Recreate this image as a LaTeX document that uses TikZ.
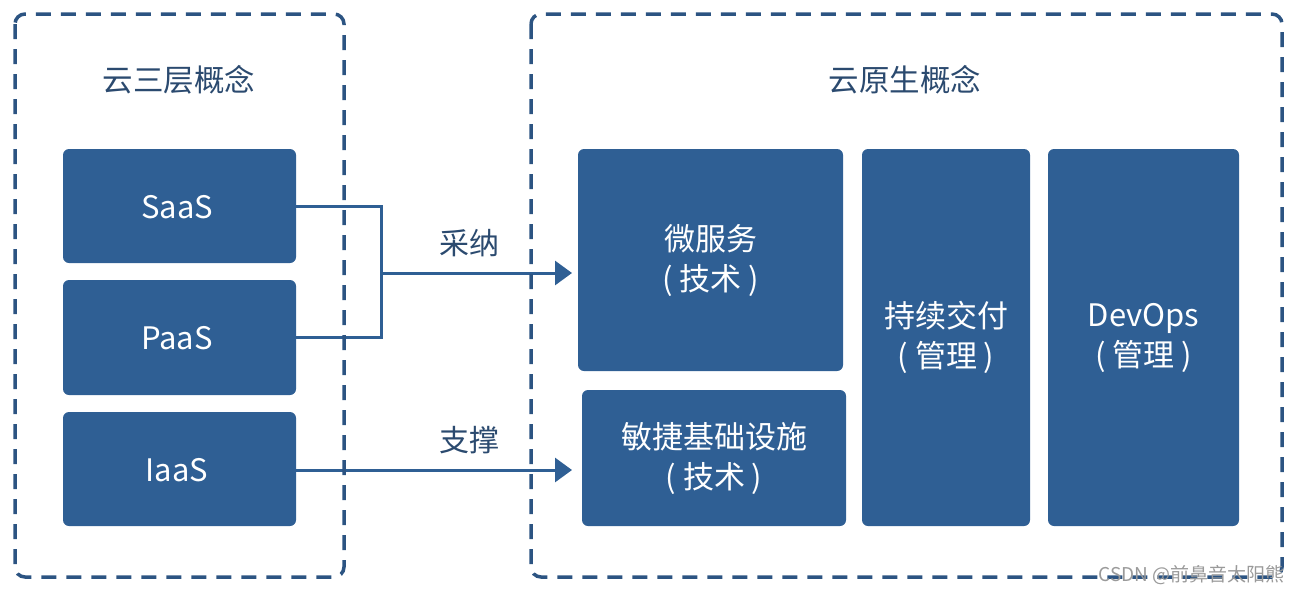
\documentclass[tikz,border=0pt]{standalone}
\usepackage{fontspec}
\setmainfont{Noto Sans CJK SC}
\usetikzlibrary{arrows.meta}
\definecolor{boxblue}{HTML}{2F5F94}
\definecolor{dashblue}{HTML}{2C5482}
\definecolor{titleblue}{HTML}{2B4A6F}
\definecolor{wmgray}{HTML}{9A9A9A}
\tikzset{
  blk/.style={fill=boxblue, rounded corners=6pt, draw=none},
  blktext/.style={text=white, font=\fontsize{31}{40}\selectfont, align=center},
  frame/.style={draw=dashblue, line width=3.5pt, dash pattern=on 15pt off 10pt, rounded corners=10pt},
  conn/.style={draw=boxblue, line width=3pt},
  arr/.style={conn, -{Triangle[length=17pt, width=24pt]}},
  title/.style={text=titleblue, font=\fontsize{30.5}{36}\selectfont},
  lbl/.style={text=titleblue, font=\fontsize{30}{36}\selectfont},
}
\begin{document}
\begin{tikzpicture}[x=1pt, y=-1pt]
\useasboundingbox (0,0) rectangle (1300,595);
% blocks
\fill[blk] (63,149) rectangle (296,263);
\node[blktext] (saas) at (177,207) {SaaS};
\fill[blk] (63,280) rectangle (296,395);
\node[blktext] (paas) at (177,338) {PaaS};
\fill[blk] (63,412) rectangle (296,526);
\node[blktext] (iaas) at (177,470) {IaaS};
\fill[blk] (578,149) rectangle (843,371);
\node[blktext] (micro) at (710.5,260) {微服务\\( 技术 )};
\fill[blk] (582,390) rectangle (846,526);
\node[blktext] (agile) at (714,458) {敏捷基础设施\\( 技术 )};
\fill[blk] (862,149) rectangle (1030,526);
\node[blktext] (cd) at (946,337.5) {持续交付\\( 管理 )};
\fill[blk] (1048,149) rectangle (1239,526);
\node[blktext] (devops) at (1143.5,337.5) {DevOps\\( 管理 )};
% anchors for connectors
\coordinate (saasR) at (296,206);
\coordinate (paasR) at (296,337);
\coordinate (iaasR) at (296,470);
\coordinate (join) at (381,273);
\coordinate (microL) at (572,273);
\coordinate (agileL) at (572,470);
% connectors
\draw[conn, line join=miter] (saasR) -| (join |- paasR) -- (paasR);
\draw[arr] (join) -- (microL);
\draw[arr] (iaasR) -- (agileL);
\node[lbl] (l1) at (469,243) {采纳};
\node[lbl] (l2) at (469,440) {支撑};
% frames
\draw[frame] (15,14) rectangle (344,577);
\draw[frame] (531,14) rectangle (1282,577);
\node[title] (t1) at (179,80) {云三层概念};
\node[title] (t2) at (905,80) {云原生概念};
% watermark
\node[text=wmgray, font=\fontsize{19}{22}\selectfont, anchor=east] (wm) at (1288,575) {CSDN @前鼻音太阳熊};
\end{tikzpicture}
\end{document}
